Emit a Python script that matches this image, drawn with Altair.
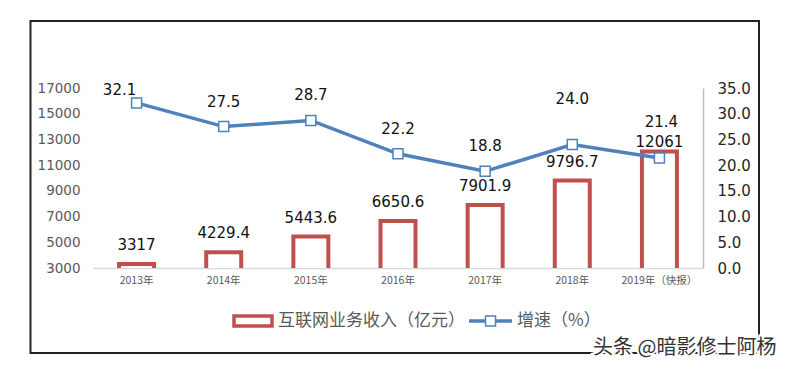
import altair as alt
import pandas as pd

years = ["2013年", "2014年", "2015年", "2016年", "2017年", "2018年", "2019年（快报）"]
revenue = [3317, 4229.4, 5443.6, 6650.6, 7901.9, 9796.7, 12061]
revenue_labels = ["3317", "4229.4", "5443.6", "6650.6", "7901.9", "9796.7", "12061"]
growth = [32.1, 27.5, 28.7, 22.2, 18.8, 24.0, 21.4]
growth_labels = ["32.1", "27.5", "28.7", "22.2", "18.8", "24.0", "21.4"]
left_ticks = [3000, 5000, 7000, 9000, 11000, 13000, 15000, 17000]
right_ticks = [0, 5, 10, 15, 20, 25, 30, 35]
legend_names = ["互联网业务收入（亿元）", "增速（%）"]
watermark = "头条 @暗影修士阿杨"

RED = "#C0504D"
BLUE = "#4F81BD"
CJK = "Noto Sans CJK SC"
NUM = "DejaVu Sans"

df = pd.DataFrame({"year": years, "revenue": revenue, "rlabel": revenue_labels,
                   "growth": growth, "glabel": growth_labels})

X = alt.X("year:N", sort=years, title=None,
          scale=alt.Scale(paddingInner=0, paddingOuter=0),
          axis=alt.Axis(labelAngle=0, ticks=False, domain=True, domainColor="#D9D9D9",
                        domainWidth=1.5, labelFont=CJK, labelFontSize=10.5,
                        labelColor="#595959", labelPadding=7, grid=False))

YL = alt.Y("revenue:Q", title=None,
           scale=alt.Scale(domain=[3000, 17000], nice=False, zero=False),
           axis=alt.Axis(values=left_ticks, format="d", domain=False, ticks=False, grid=False,
                         labelFont=NUM, labelFontSize=13.5, labelColor="#595959",
                         labelPadding=13))
YR = alt.Y("growth:Q", title=None,
           scale=alt.Scale(domain=[0, 35], nice=False, zero=False),
           axis=alt.Axis(orient="right", values=right_ticks, format=".1f", domain=True,
                         domainColor="#BFBFBF", domainWidth=1.5, ticks=False, grid=False,
                         labelFont=NUM, labelFontSize=15, labelColor="#262626",
                         labelPadding=14))

base = alt.Chart(df)

bars = base.mark_bar(fill="white", stroke=RED, strokeWidth=4, size=35, clip=True).encode(
    x=X, y=YL, y2=alt.value(183))

last = years[-1]
bar_text = base.transform_filter(alt.datum.year != last).mark_text(
    font=NUM, fontSize=15, color="#111", baseline="alphabetic", dy=-14).encode(
    x=X, y=YL, text="rlabel:N")
bar_text_last = base.transform_filter(alt.datum.year == last).mark_text(
    font=NUM, fontSize=15, color="#111", baseline="alphabetic", dy=-5).encode(
    x=X, y=YL, text="rlabel:N")

bar_layer = alt.layer(bars, bar_text, bar_text_last)

line = base.mark_line(color=BLUE, strokeWidth=3.5).encode(x=X, y=YR)
pts = base.mark_point(shape="square", filled=True, fill="white", stroke=BLUE,
                      strokeWidth=1.5, size=100, opacity=1).encode(x=X, y=YR)

special = [years[0], years[5], years[6]]
lt_common = dict(font=NUM, fontSize=15, color="#111", baseline="alphabetic")
lt_main = base.transform_filter(
    ~alt.FieldOneOfPredicate(field="year", oneOf=special)).mark_text(dy=-20, **lt_common).encode(
    x=X, y=YR, text="glabel:N")
lt_2013 = base.transform_filter(alt.datum.year == years[0]).mark_text(dy=-8, dx=-17, **lt_common).encode(
    x=X, y=YR, text="glabel:N")
lt_2018 = base.transform_filter(alt.datum.year == years[5]).mark_text(dy=-41, **lt_common).encode(
    x=X, y=YR, text="glabel:N")
lt_2019 = base.transform_filter(alt.datum.year == years[6]).mark_text(dy=-31, dx=2, **lt_common).encode(
    x=X, y=YR, text="glabel:N")

line_layer = alt.layer(line, pts, lt_main, lt_2013, lt_2018, lt_2019)

one = alt.Data(values=[{"k": 1}])

frame = alt.Chart(one).mark_rect(fill=None, stroke="#222", strokeWidth=2).encode(
    x=alt.value(-62.5), x2=alt.value(666), y=alt.value(-67), y2=alt.value(265))

leg_rect = alt.Chart(one).mark_rect(fill="white", stroke=RED, strokeWidth=3.5).encode(
    x=alt.value(141), x2=alt.value(179), y=alt.value(228), y2=alt.value(238))
leg_text1 = alt.Chart(one).mark_text(font=CJK, fontSize=17, color="#595959", align="left",
                                     baseline="middle", text=legend_names[0]).encode(
    x=alt.value(185), y=alt.value(233))
leg_line = alt.Chart(one).mark_rule(color=BLUE, strokeWidth=3.5).encode(
    x=alt.value(376), x2=alt.value(419), y=alt.value(233))
leg_pt = alt.Chart(one).mark_point(shape="square", filled=True, fill="white", stroke=BLUE,
                                   strokeWidth=1.5, size=100, opacity=1).encode(
    x=alt.value(397.5), y=alt.value(233))
leg_text2 = alt.Chart(one).mark_text(font=CJK, fontSize=17, color="#595959", align="left",
                                     baseline="middle", text=legend_names[1]).encode(
    x=alt.value(424), y=alt.value(233))

wm_bg = alt.Chart(one).mark_text(font=CJK, fontSize=20, color="white", stroke="white", strokeWidth=4,
                                 align="left", baseline="middle", text=watermark).encode(
    x=alt.value(500), y=alt.value(260))
wm = alt.Chart(one).mark_text(font=CJK, fontSize=20, color="#333", align="left",
                              baseline="middle", text=watermark).encode(
    x=alt.value(500), y=alt.value(260))

main = alt.layer(bar_layer, line_layer).resolve_scale(y="independent")

chart = alt.layer(frame, main, leg_rect, leg_text1, leg_line, leg_pt, leg_text2, wm_bg, wm).properties(
    width=610, height=180,
    padding={"left": 85, "top": 80, "right": 78, "bottom": 94},
    autosize=alt.AutoSizeParams(type="none"),
    background="white",
).configure_view(stroke=None)

chart.save("out.html", embed_options={"renderer": "svg", "actions": False})
